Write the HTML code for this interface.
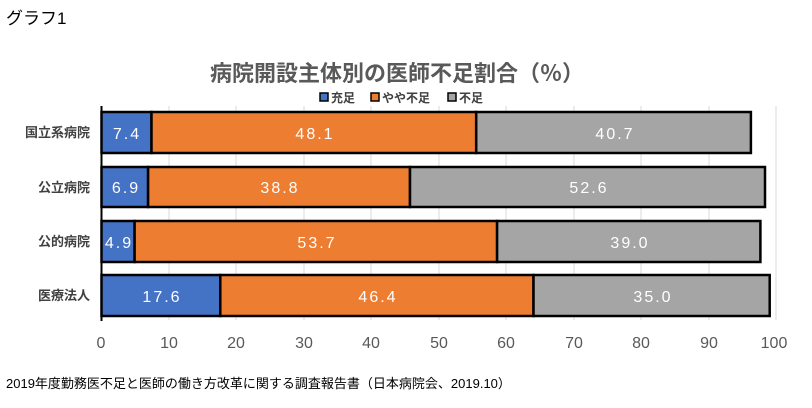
<!DOCTYPE html>
<html><head><meta charset="utf-8"><style>
body{margin:0;background:#fff;width:812px;height:403px;overflow:hidden}
</style></head><body>
<svg width="812" height="403" xmlns="http://www.w3.org/2000/svg" font-family="'Liberation Sans','Noto Sans CJK JP',sans-serif">
<text x="6" y="24" font-size="17" fill="#000">グラフ1</text>
<text x="397" y="81" font-size="22" font-weight="bold" fill="#595959" text-anchor="middle">病院開設主体別の医師不足割合（％）</text>
<g font-size="12" font-weight="bold" fill="#404040">
<rect x="320" y="93" width="8" height="8" fill="#4472c4" stroke="#000" stroke-width="1.5"/><text x="331" y="102">充足</text>
<rect x="371" y="93" width="8" height="8" fill="#ed7d31" stroke="#000" stroke-width="1.5"/><text x="382" y="102">やや不足</text>
<rect x="448" y="93" width="8" height="8" fill="#a5a5a5" stroke="#000" stroke-width="1.5"/><text x="459" y="102">不足</text>
</g>
<g stroke="#d9d9d9" stroke-width="1">
<line x1="169" y1="106" x2="169" y2="320"/><line x1="236" y1="106" x2="236" y2="320"/><line x1="304" y1="106" x2="304" y2="320"/><line x1="371" y1="106" x2="371" y2="320"/><line x1="439" y1="106" x2="439" y2="320"/><line x1="506" y1="106" x2="506" y2="320"/><line x1="574" y1="106" x2="574" y2="320"/><line x1="641" y1="106" x2="641" y2="320"/><line x1="709" y1="106" x2="709" y2="320"/><line x1="776" y1="106" x2="776" y2="320"/>
</g>
<g stroke="#000" stroke-width="2.5">
<rect x="101.5" y="112" width="50" height="41" fill="#4472c4"/><rect x="151.5" y="112" width="324.7" height="41" fill="#ed7d31"/><rect x="476.2" y="112" width="274.7" height="41" fill="#a5a5a5"/>
<rect x="101.5" y="167" width="46.6" height="40" fill="#4472c4"/><rect x="148.1" y="167" width="261.9" height="40" fill="#ed7d31"/><rect x="410" y="167" width="355" height="40" fill="#a5a5a5"/>
<rect x="101.5" y="221" width="33.1" height="41" fill="#4472c4"/><rect x="134.6" y="221" width="362.5" height="41" fill="#ed7d31"/><rect x="497.1" y="221" width="263.3" height="41" fill="#a5a5a5"/>
<rect x="101.5" y="275" width="118.8" height="41" fill="#4472c4"/><rect x="220.3" y="275" width="313.2" height="41" fill="#ed7d31"/><rect x="533.5" y="275" width="236.2" height="41" fill="#a5a5a5"/>
</g>
<line x1="101.5" y1="106" x2="101.5" y2="321" stroke="#000" stroke-width="2"/>
<g font-size="16" fill="#fff" text-anchor="middle" letter-spacing="2">
<text x="127" y="139">7.4</text><text x="315" y="139">48.1</text><text x="615" y="139">40.7</text>
<text x="126" y="193">6.9</text><text x="280" y="193">38.8</text><text x="589" y="193">52.6</text>
<text x="119" y="248">4.9</text><text x="317" y="248">53.7</text><text x="630" y="248">39.0</text>
<text x="162" y="302">17.6</text><text x="378" y="302">46.4</text><text x="653" y="302">35.0</text>
</g>
<g font-size="13" font-weight="bold" fill="#404040" text-anchor="end">
<text x="90" y="137">国立系病院</text><text x="90" y="192">公立病院</text><text x="90" y="246">公的病院</text><text x="90" y="300">医療法人</text>
</g>
<g font-size="16" fill="#595959" text-anchor="middle">
<text x="101" y="348">0</text><text x="169" y="348">10</text><text x="236" y="348">20</text><text x="304" y="348">30</text><text x="371" y="348">40</text><text x="439" y="348">50</text><text x="506" y="348">60</text><text x="574" y="348">70</text><text x="641" y="348">80</text><text x="709" y="348">90</text><text x="774" y="348">100</text>
</g>
<text x="6" y="388" font-size="13" fill="#000">2019年度勤務医不足と医師の働き方改革に関する調査報告書（日本病院会、2019.10）</text>
</svg>
</body></html>
